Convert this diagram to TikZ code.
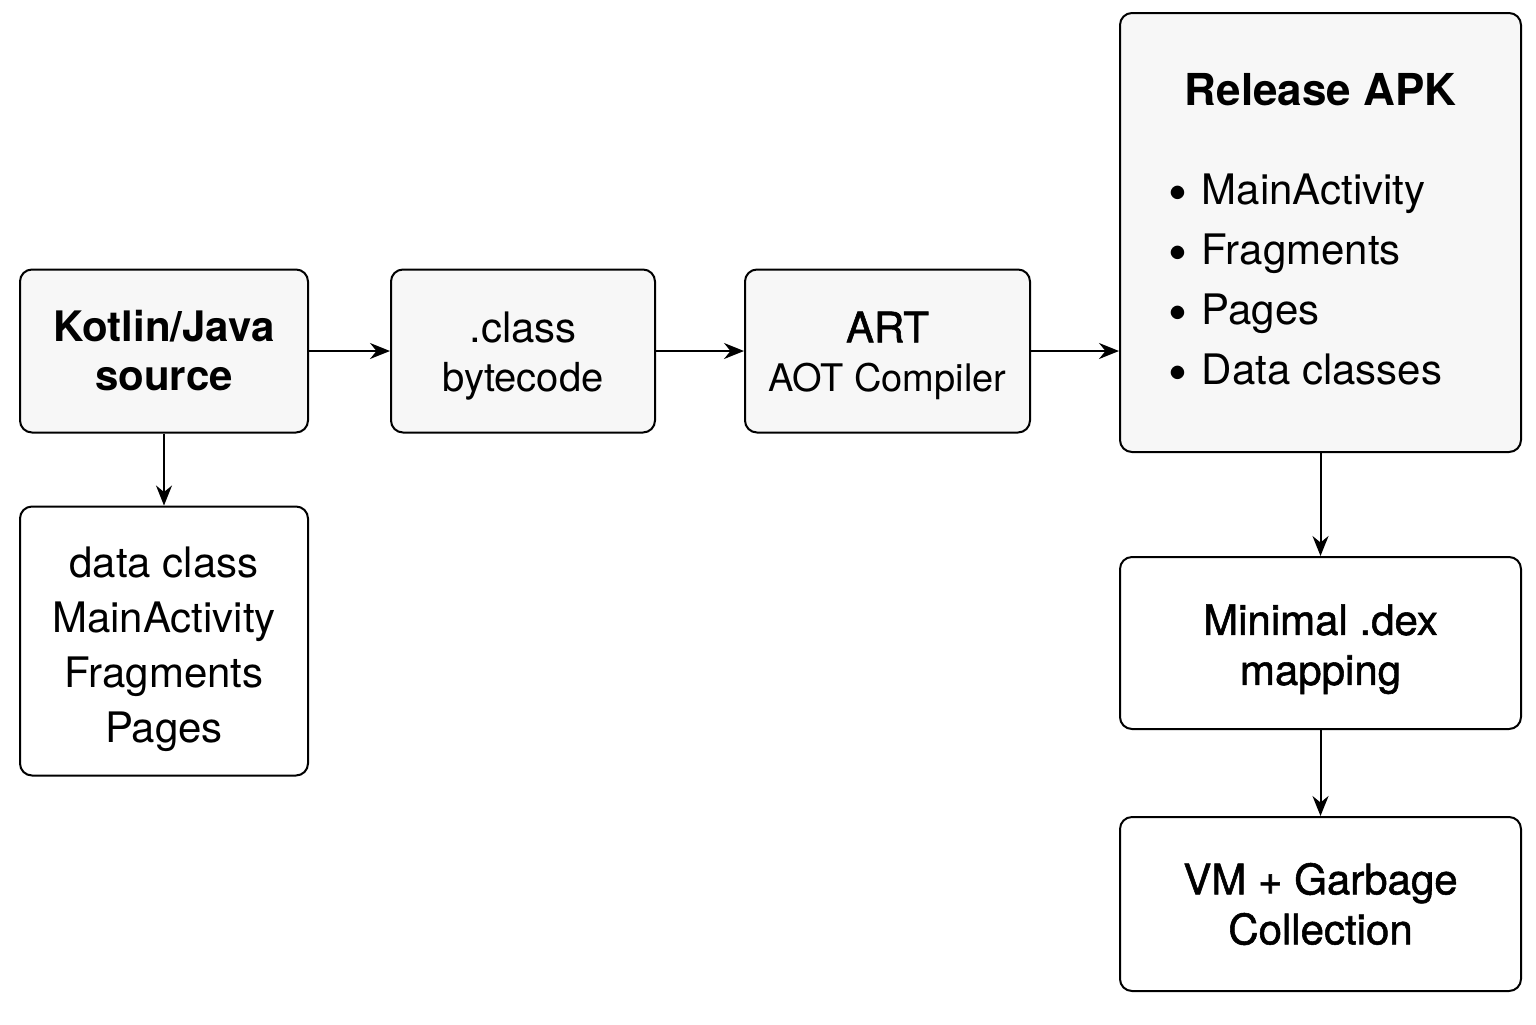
\documentclass[tikz,border=0pt]{standalone}
\usepackage{fontspec}
\setmainfont{TeX Gyre Heros}
\newfontfamily\medfont{TeX Gyre Heros}[FakeBold=1.3]
\usetikzlibrary{arrows.meta, positioning}
\colorlet{boxfill}{black!3}
\newcommand{\apkdot}{\raisebox{-3.5pt}{\fontsize{27}{27}\selectfont\textbullet}\hspace{7pt}}

\begin{document}
\begin{tikzpicture}[x=0.5pt, y=-0.5pt,
  stage/.style={draw, line width=1pt, rounded corners=6pt, fill=boxfill,
    align=center, inner sep=0pt, minimum height=81.5pt,
    font=\fontsize{21}{24.5}\selectfont},
  plain/.style={stage, fill=white},
  flow/.style={line width=1pt, -{Stealth[length=10pt, width=8pt]}}]
  \useasboundingbox (0,0) rectangle (1536,1024);
  % top row
  \node[stage, minimum width=144pt] (src) at (164,351) {\bfseries Kotlin/Java\\\bfseries source};
  \node[stage, minimum width=132pt] (cls) [right = 40.5pt of src] {\rule{0pt}{20.3pt}.class\\\fontsize{20}{24.5}\selectfont bytecode};
  \node[stage, minimum width=142.5pt] (art) [right = 44pt of cls] {\rule{0pt}{20pt}{\medfont ART}\\\fontsize{19}{25}\selectfont AOT Compiler};
  \node[stage, minimum width=200.5pt, minimum height=219.5pt] (apk) at (1320.5,232.5)
    {{\fontsize{22}{26}\selectfont\bfseries\rule{0pt}{20pt}Release APK}\\[31pt]
     \begin{tabular}{@{}l@{}}
       \apkdot MainActivity\\[5.5pt]
       \apkdot Fragments\\[5.5pt]
       \apkdot Pages\\[5.5pt]
       \apkdot Data classes
     \end{tabular}\kern15pt};
  % lower boxes
  \node[plain, minimum width=144pt, minimum height=134.5pt, font=\fontsize{21}{27.5}\selectfont] (kept) [below = 36pt of src]
    {\rule{0pt}{23.5pt}data class\\MainActivity\\Fragments\\Pages};
  \node[plain, minimum width=200.5pt, minimum height=86pt, font=\fontsize{21}{25}\selectfont\medfont] (dex) [below = 51.5pt of apk]
    {\rule{0pt}{21.5pt}Minimal .dex\\mapping};
  \node[plain, minimum width=200.5pt, minimum height=87pt, font=\fontsize{21}{25}\selectfont\medfont] (gc) [below = 43pt of dex]
    {VM + Garbage\\Collection};
  % connectors
  \draw[flow] (src) -- (cls);
  \draw[flow] (cls) -- (art);
  \draw[flow] (art) -- (art -| apk.west);
  \draw[flow] (src) -- (kept);
  \draw[flow] (apk) -- (dex);
  \draw[flow] (dex) -- (gc);
\end{tikzpicture}
\end{document}
